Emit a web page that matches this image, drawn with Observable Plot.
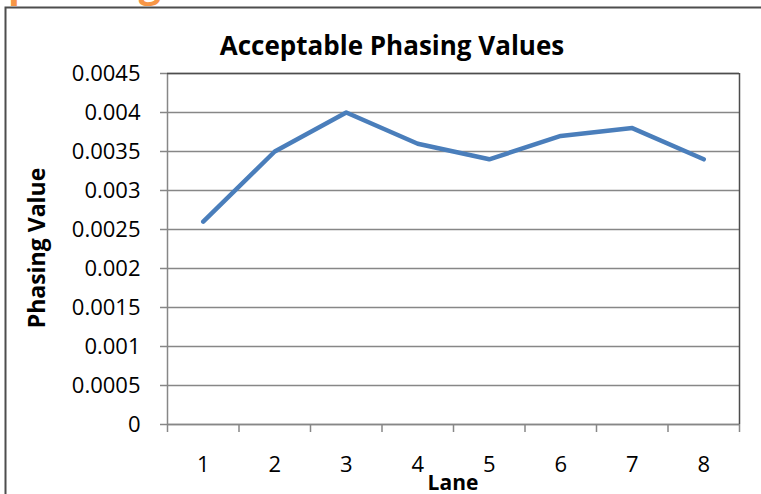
<!DOCTYPE html>
<html>
<head>
<meta charset="utf-8">
<script src="https://cdn.jsdelivr.net/npm/d3@7"></script>
<script src="https://cdn.jsdelivr.net/npm/@observablehq/plot@0.6"></script>
<style>
  html, body { margin: 0; padding: 0; background: #fff; overflow: hidden; }
  #chart svg { display: block; }
</style>
</head>
<body>
<div id="chart"></div>
<script>
// Phasing value measured on each lane
const lanes = [1, 2, 3, 4, 5, 6, 7, 8];
const phasing = [0.0026, 0.0035, 0.004, 0.0036, 0.0034, 0.0037, 0.0038, 0.0034];

// Value axis ticks and their labels
const yTicks = [0, 0.0005, 0.001, 0.0015, 0.002, 0.0025, 0.003, 0.0035, 0.004, 0.0045];
const yLabels = ["0", "0.0005", "0.001", "0.0015", "0.002", "0.0025", "0.003", "0.0035", "0.004", "0.0045"];

// Category boundaries between lanes (tick marks on the lane axis)
const laneBounds = [0.5, 1.5, 2.5, 3.5, 4.5, 5.5, 6.5, 7.5, 8.5];

const title = "Acceptable Phasing Values";
const xTitle = "Lane";
const yTitle = "Phasing Value";
const heading = "phasing";

const data = lanes.map((lane, i) => ({lane, value: phasing[i]}));

const font = "'Open Sans', 'DejaVu Sans', sans-serif";
const gridColor = "#878787";
const frameColor = "#4d4d4d";

const chart = Plot.plot({
  width: 761,
  height: 494,
  marginLeft: 167,
  marginRight: 22,
  marginTop: 73,
  marginBottom: 70,
  style: {fontFamily: font, background: "#fff", overflow: "hidden"},
  x: {type: "linear", domain: [0.5, 8.5]},
  y: {domain: [0, 0.0045]},
  marks: [
    Plot.gridY(yTicks, {stroke: gridColor, strokeOpacity: 1, strokeWidth: 1.5}),
    Plot.ruleX([0.5], {stroke: gridColor, strokeWidth: 1.5}),
    Plot.ruleY([0], {stroke: gridColor, strokeWidth: 1.5}),
    Plot.ruleY([0.0045], {stroke: frameColor, strokeWidth: 1.5}),
    Plot.ruleX([8.5], {stroke: frameColor, strokeWidth: 1.5}),
    Plot.axisY(yTicks, {
      tickSize: 7, tickPadding: 20, stroke: gridColor, strokeWidth: 1.5,
      tickFormat: d => yLabels[yTicks.indexOf(d)],
      fontSize: 22, fill: "#000", label: null
    }),
    Plot.axisX(laneBounds, {
      tickSize: 8, stroke: gridColor, strokeWidth: 1.5,
      tickFormat: () => "", label: null
    }),
    Plot.axisX(lanes, {
      tickSize: 0, tickPadding: 32, fontSize: 22, fill: "#000",
      tickFormat: d => String(d), label: null
    }),
    Plot.line(data, {
      x: "lane", y: "value",
      stroke: "#4a7ebb", strokeWidth: 4.5,
      strokeLinecap: "round", strokeLinejoin: "round"
    })
  ]
});

document.getElementById("chart").appendChild(chart);

const svg = d3.select(chart);

// Outer chart border (top and left edges show)
svg.append("path")
  .attr("d", "M5.5,494 V7.5 H761")
  .attr("fill", "none")
  .attr("stroke", "#4d4d4d")
  .attr("stroke-width", 2);

// Heading text that sits above the chart; only its descenders reach the page
svg.append("text")
  .attr("x", 8)
  .attr("y", -3)
  .attr("text-anchor", "start")
  .attr("font-family", font)
  .attr("font-weight", "bold")
  .attr("font-size", 39)
  .attr("fill", "#f79646")
  .text(heading);

svg.append("text")
  .attr("x", 392)
  .attr("y", 55)
  .attr("text-anchor", "middle")
  .attr("font-family", font)
  .attr("font-weight", "bold")
  .attr("font-size", 26)
  .attr("fill", "#000")
  .text(title);

svg.append("text")
  .attr("transform", "translate(45,248) rotate(-90)")
  .attr("text-anchor", "middle")
  .attr("font-family", font)
  .attr("font-weight", "bold")
  .attr("font-size", 23)
  .attr("fill", "#000")
  .text(yTitle);

svg.append("text")
  .attr("x", 453)
  .attr("y", 490)
  .attr("text-anchor", "middle")
  .attr("font-family", font)
  .attr("font-weight", "bold")
  .attr("font-size", 21)
  .attr("fill", "#000")
  .text(xTitle);
</script>
</body>
</html>
